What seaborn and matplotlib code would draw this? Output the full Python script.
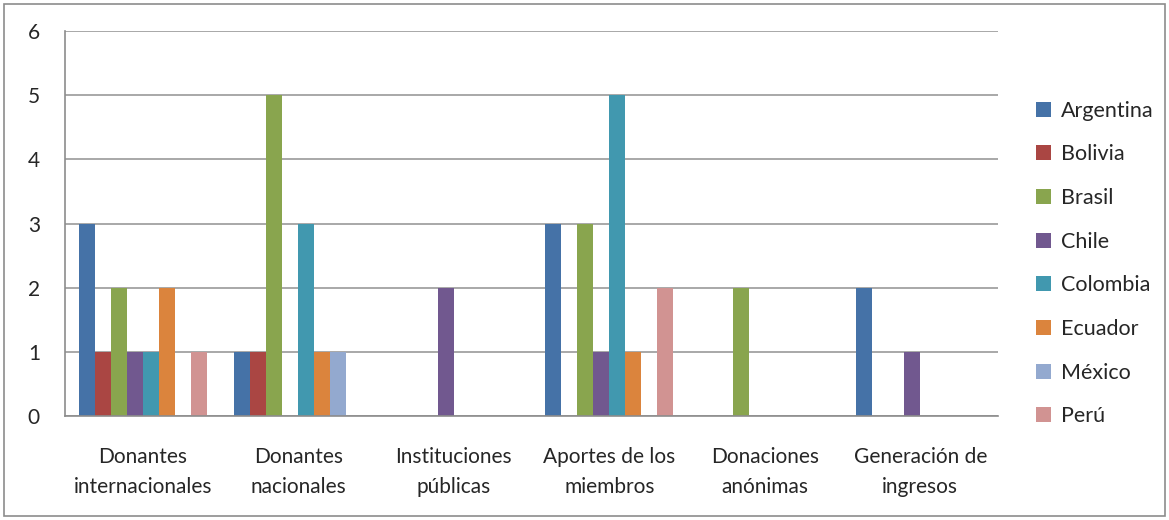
import matplotlib.pyplot as plt
import seaborn as sns
import pandas as pd
from matplotlib.patches import Rectangle

categories = ["Donantes\ninternacionales", "Donantes\nnacionales", "Instituciones\npúblicas",
              "Aportes de los\nmiembros", "Donaciones\nanónimas", "Generación de\ningresos"]
countries = ["Argentina", "Bolivia", "Brasil", "Chile", "Colombia", "Ecuador", "México", "Perú"]

argentina = [3, 1, 0, 3, 0, 2]
bolivia = [1, 1, 0, 0, 0, 0]
brasil = [2, 5, 0, 3, 2, 0]
chile = [1, 0, 2, 1, 0, 1]
colombia = [1, 3, 0, 5, 0, 0]
ecuador = [2, 1, 0, 1, 0, 0]
mexico = [0, 1, 0, 0, 0, 0]
peru = [1, 0, 0, 2, 0, 0]

colors = ["#4572A7", "#AA4643", "#89A54E", "#71588F", "#4198AF", "#DB843D", "#93A9CF", "#D19392"]

series = [argentina, bolivia, brasil, chile, colombia, ecuador, mexico, peru]
rows = []
for country, vals in zip(countries, series):
    for cat, v in zip(categories, vals):
        rows.append({"cat": cat, "country": country, "value": v})
df = pd.DataFrame(rows)

sns.set_style("white")
plt.rcParams["font.family"] = ["Lato", "DejaVu Sans"]

fig = plt.figure(figsize=(11.69, 5.2), dpi=100)
ax = fig.add_axes([65 / 1169, 1 - 416 / 520, (998 - 65) / 1169, (416 - 31) / 520])

sns.barplot(data=df, x="cat", y="value", hue="country", palette=colors, saturation=1,
            width=0.82, linewidth=0, ax=ax, legend=True)

ax.set_ylim(0, 6)
ax.set_xlim(-0.5, len(categories) - 0.5)
ax.set_yticks(range(7))
ax.yaxis.grid(True, color="#9a9a9a", linewidth=1.2)
ax.set_axisbelow(True)
ax.set_xlabel("")
ax.set_ylabel("")
for s in ["top", "right"]:
    ax.spines[s].set_visible(False)
for s in ["left", "bottom"]:
    ax.spines[s].set_color("#8c8c8c")
    ax.spines[s].set_linewidth(1.2)

ax.set_xticks([i + 0.5 for i in range(-1, len(categories))], minor=False)
ax.set_xticklabels([])
ax.set_xticks(range(len(categories)), minor=True)
ax.set_xticklabels(categories, minor=True, fontsize=15, linespacing=1.65)
ax.tick_params(axis="x", which="major", length=7, color="#8c8c8c", width=1.2, direction="out")
ax.tick_params(axis="x", which="minor", length=0, pad=22)
ax.tick_params(axis="y", length=7, color="#8c8c8c", width=1.2, direction="out", labelsize=15, pad=11)

ax.legend(loc="center left", bbox_to_anchor=(1.02, 0.396), frameon=False, fontsize=15.5,
          handlelength=0.7, handleheight=0.7, handletextpad=0.45, labelspacing=1.1)

fig.patches.append(Rectangle((4 / 1169, 4 / 520), 1 - 8 / 1169, 1 - 8 / 520,
                             transform=fig.transFigure, fill=False,
                             edgecolor="#8c8c8c", linewidth=1.2))

fig.savefig("out.png", dpi=100)
